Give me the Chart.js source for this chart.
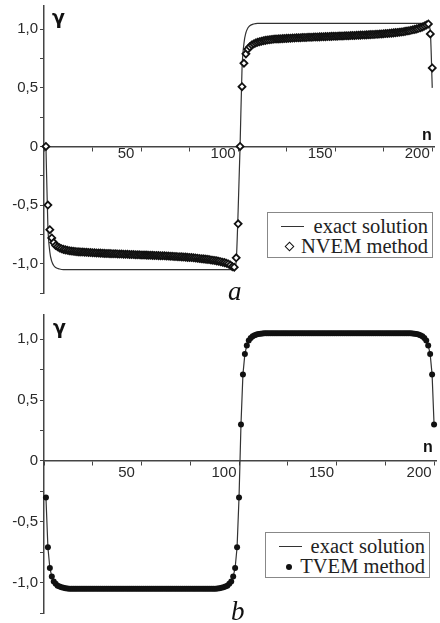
<!DOCTYPE html>
<html>
<head>
<meta charset="utf-8">
<script src="https://cdn.jsdelivr.net/npm/chart.js@4/dist/chart.umd.min.js"></script>
<style>
  body { margin: 0; background: #fff; }
  #wrap { position: relative; width: 440px; height: 623px; overflow: hidden; }
  canvas { position: absolute; left: 0; }
  .legend { position: absolute; border: 1px solid #888; background: #fff; box-sizing: border-box;
            font-family: "Liberation Serif", serif; font-size: 20.5px; color: #222; }
  .legend .txt { position: absolute; right: 4px; line-height: 20px; white-space: nowrap; }
  .legend .ln { position: absolute; width: 23px; height: 0; border-top: 1.5px solid #333; }
  .legend .dia { position: absolute; width: 5px; height: 5px; border: 1.5px solid #111; background: #fff; transform: rotate(45deg); }
  .legend .dot { position: absolute; width: 6px; height: 6px; border-radius: 50%; background: #111; }
</style>
</head>
<body>
<div id="wrap">
  <canvas id="chartA" width="440" height="310" style="top:0"></canvas>
  <canvas id="chartB" width="440" height="313" style="top:310px"></canvas>

  <div class="legend" style="left:267px; top:212px; width:166px; height:46px;">
    <div class="ln" style="left:13px; top:13px;"></div>
    <div class="txt" style="top:3px;">exact solution</div>
    <div class="dia" style="left:18px; top:30px;"></div>
    <div class="txt" style="top:23px;">NVEM method</div>
  </div>

  <div class="legend" style="left:265px; top:532px; width:165px; height:46px;">
    <div class="ln" style="left:13px; top:13px;"></div>
    <div class="txt" style="top:3px;">exact solution</div>
    <div class="dot" style="left:20px; top:31px;"></div>
    <div class="txt" style="top:23px;">TVEM method</div>
  </div>
</div>

<script>
// n = 1..200 (diamonds)
const nvem = [
  0, -0.50, -0.71, -0.78, -0.82, -0.845, -0.856, -0.865, -0.872, -0.878,
  -0.882, -0.886, -0.889, -0.892, -0.894, -0.896, -0.898, -0.899, -0.900, -0.901,
  -0.902, -0.903, -0.904, -0.905, -0.906, -0.907, -0.908, -0.909, -0.910, -0.911,
  -0.912, -0.913, -0.913, -0.914, -0.915, -0.916, -0.916, -0.917, -0.918, -0.918,
  -0.919, -0.920, -0.920, -0.921, -0.922, -0.922, -0.923, -0.924, -0.924, -0.925,
  -0.926, -0.926, -0.927, -0.928, -0.928, -0.929, -0.930, -0.930, -0.931, -0.932,
  -0.933, -0.933, -0.934, -0.935, -0.936, -0.937, -0.938, -0.939, -0.940, -0.941,
  -0.942, -0.943, -0.944, -0.946, -0.947, -0.948, -0.950, -0.951, -0.953, -0.955,
  -0.957, -0.959, -0.961, -0.963, -0.965, -0.968, -0.970, -0.973, -0.976, -0.979,
  -0.983, -0.987, -0.991, -0.996, -1.002, -1.012, -1.025, -1.030, -0.95, -0.66,
  0, 0.51, 0.71, 0.79, 0.83, 0.85, 0.865, 0.875, 0.883, 0.889,
  0.894, 0.898, 0.902, 0.905, 0.908, 0.910, 0.912, 0.914, 0.916, 0.917,
  0.918, 0.919, 0.920, 0.921, 0.922, 0.923, 0.924, 0.925, 0.926, 0.927,
  0.927, 0.928, 0.929, 0.930, 0.930, 0.931, 0.932, 0.932, 0.933, 0.934,
  0.934, 0.935, 0.936, 0.936, 0.937, 0.938, 0.938, 0.939, 0.940, 0.940,
  0.941, 0.942, 0.942, 0.943, 0.944, 0.944, 0.945, 0.946, 0.947, 0.947,
  0.948, 0.949, 0.950, 0.951, 0.951, 0.952, 0.953, 0.954, 0.955, 0.956,
  0.957, 0.958, 0.959, 0.960, 0.962, 0.963, 0.964, 0.966, 0.967, 0.969,
  0.971, 0.973, 0.975, 0.977, 0.979, 0.982, 0.985, 0.988, 0.991, 0.995,
  0.999, 1.003, 1.008, 1.014, 1.020, 1.028, 1.037, 1.045, 0.96, 0.67
];

// exact solution of panel a, sampled where the curve bends
const exactN = [1, 2, 3, 4, 5, 6, 8, 10, 20, 40, 60, 80, 95, 97, 98, 99, 100,
  101, 102, 103, 104, 105, 106, 108, 110, 120, 140, 160, 180, 195, 197, 198, 199, 200];
const exactA = [0, -0.68, -0.90, -0.98, -1.015, -1.032, -1.045, -1.05, -1.05, -1.05, -1.05, -1.05, -1.05, -1.048, -1.04, -0.98, -0.55,
  0, 0.66, 0.88, 0.97, 1.01, 1.03, 1.045, 1.05, 1.05, 1.05, 1.05, 1.05, 1.05, 1.048, 1.04, 0.98, 0.5];

// n = 1..200, panel b (filled dots, exact line runs through them)
const tvem = [
  -0.30, -0.71, -0.88, -0.95, -0.99, -1.01, -1.025, -1.033, -1.039, -1.043,
  -1.046, -1.048, -1.05, -1.05, -1.05, -1.05, -1.05, -1.05, -1.05, -1.05,
  -1.05, -1.05, -1.05, -1.05, -1.05, -1.05, -1.05, -1.05, -1.05, -1.05,
  -1.05, -1.05, -1.05, -1.05, -1.05, -1.05, -1.05, -1.05, -1.05, -1.05,
  -1.05, -1.05, -1.05, -1.05, -1.05, -1.05, -1.05, -1.05, -1.05, -1.05,
  -1.05, -1.05, -1.05, -1.05, -1.05, -1.05, -1.05, -1.05, -1.05, -1.05,
  -1.05, -1.05, -1.05, -1.05, -1.05, -1.05, -1.05, -1.05, -1.05, -1.05,
  -1.05, -1.05, -1.05, -1.05, -1.05, -1.05, -1.05, -1.05, -1.05, -1.05,
  -1.05, -1.05, -1.05, -1.05, -1.05, -1.05, -1.05, -1.05, -1.048, -1.046,
  -1.043, -1.039, -1.033, -1.025, -1.01, -0.99, -0.95, -0.88, -0.71, -0.30,
  0.30, 0.71, 0.88, 0.95, 0.99, 1.01, 1.025, 1.033, 1.039, 1.043,
  1.046, 1.048, 1.05, 1.05, 1.05, 1.05, 1.05, 1.05, 1.05, 1.05,
  1.05, 1.05, 1.05, 1.05, 1.05, 1.05, 1.05, 1.05, 1.05, 1.05,
  1.05, 1.05, 1.05, 1.05, 1.05, 1.05, 1.05, 1.05, 1.05, 1.05,
  1.05, 1.05, 1.05, 1.05, 1.05, 1.05, 1.05, 1.05, 1.05, 1.05,
  1.05, 1.05, 1.05, 1.05, 1.05, 1.05, 1.05, 1.05, 1.05, 1.05,
  1.05, 1.05, 1.05, 1.05, 1.05, 1.05, 1.05, 1.05, 1.05, 1.05,
  1.05, 1.05, 1.05, 1.05, 1.05, 1.05, 1.05, 1.05, 1.05, 1.05,
  1.05, 1.05, 1.05, 1.05, 1.05, 1.05, 1.05, 1.05, 1.048, 1.046,
  1.043, 1.039, 1.033, 1.025, 1.01, 0.99, 0.95, 0.88, 0.71, 0.30
];

const xTickStep = 25;
const yTickStep = 0.25;

const axisColor = '#444';
const tickFont = { family: '"Liberation Sans", Arial, sans-serif', size: 15 };

function yLabel(v) {
  if (Math.abs(v * 2 - Math.round(v * 2)) > 1e-6) return '';
  if (Math.abs(v) < 1e-9) return '0';
  return v.toFixed(1).replace('.', ',');
}

function xLabel(v) {
  return (v > 0 && v % 50 === 0) ? String(v) : '';
}

// draws the γ / n axis names and the panel letter
const panelText = {
  id: 'panelText',
  afterDraw(chart, args, o) {
    const ctx = chart.ctx;
    ctx.save();
    ctx.fillStyle = '#111';
    ctx.textBaseline = 'alphabetic';
    ctx.font = 'bold 19px "DejaVu Sans", sans-serif';
    ctx.fillText('γ', o.gx, o.gy);
    ctx.font = 'bold 16px "Liberation Sans", sans-serif';
    ctx.fillText('n', o.nx, o.ny);
    ctx.font = 'italic 27px "Liberation Serif", serif';
    ctx.fillText(o.tag, o.tx, o.ty);
    ctx.restore();
  }
};

function scales(xPad) {
  return {
    x: {
      type: 'linear',
      position: { y: 0 },
      min: 0,
      max: 201,
      afterBuildTicks: s => { s.ticks = s.ticks.filter(t => t.value % xTickStep === 0); },
      afterFit: s => { s.paddingLeft = 0; s.paddingRight = 0; },
      ticks: { stepSize: xTickStep, includeBounds: false, autoSkip: false, maxRotation: 0, labelOffset: -15,
               padding: xPad, color: '#2a2a2a', font: tickFont, callback: xLabel },
      grid: { drawOnChartArea: false, tickLength: 4, color: axisColor },
      border: { display: true, color: axisColor, width: 1.5 }
    },
    y: {
      type: 'linear',
      position: 'left',
      min: -1.25,
      max: 1.2,
      afterBuildTicks: s => { s.ticks = s.ticks.filter(t => Math.abs(t.value * 4 - Math.round(t.value * 4)) < 1e-6); },
      afterFit: s => { s.width = 44; s.paddingTop = 0; s.paddingBottom = 0; },
      ticks: { stepSize: yTickStep, includeBounds: false, autoSkip: false, padding: 2, color: '#2a2a2a', font: tickFont, callback: yLabel },
      grid: { drawOnChartArea: false, tickLength: 4, color: axisColor },
      border: { display: true, color: axisColor, width: 1.5 }
    }
  };
}

const nvemPts = nvem.map((v, i) => ({ x: i + 1, y: v }));
const exactPts = exactN.map((n, i) => ({ x: n, y: exactA[i] }));
const tvemPts = tvem.map((v, i) => ({ x: i + 1, y: v }));

new Chart(document.getElementById('chartA'), {
  type: 'scatter',
  data: {
    datasets: [{
      label: 'NVEM method',
      data: nvemPts,
      showLine: false,
      pointStyle: 'rectRot',
      pointRadius: 3.5,
      pointBorderWidth: 1.8,
      pointBackgroundColor: '#fff',
      pointBorderColor: '#111',
      clip: false
    }, {
      label: 'exact solution',
      data: exactPts,
      showLine: true,
      borderColor: '#333',
      borderWidth: 1.2,
      pointRadius: 0,
      cubicInterpolationMode: 'monotone',
      clip: false
    }]
  },
  options: {
    responsive: false,
    animation: false,
    devicePixelRatio: 1,
    layout: { padding: { left: 0, top: 5, right: 1, bottom: 17 } },
    scales: scales(-6),
    plugins: {
      legend: { display: false },
      tooltip: { enabled: false },
      panelText: { gx: 52, gy: 24, nx: 422, ny: 140, tag: 'a', tx: 228, ty: 300 }
    }
  },
  plugins: [panelText]
});

new Chart(document.getElementById('chartB'), {
  type: 'scatter',
  data: {
    datasets: [{
      label: 'TVEM method',
      data: tvemPts,
      showLine: false,
      pointStyle: 'circle',
      pointRadius: 3,
      pointBorderWidth: 0,
      pointBackgroundColor: '#111',
      clip: false
    }, {
      label: 'exact solution',
      data: tvemPts,
      showLine: true,
      borderColor: '#333',
      borderWidth: 1.2,
      pointRadius: 0,
      clip: false
    }]
  },
  options: {
    responsive: false,
    animation: false,
    devicePixelRatio: 1,
    layout: { padding: { left: 0, top: 5, right: 1, bottom: 10 } },
    scales: scales(-1),
    plugins: {
      legend: { display: false },
      tooltip: { enabled: false },
      panelText: { gx: 53, gy: 24, nx: 423, ny: 142, tag: 'b', tx: 231, ty: 310 }
    }
  },
  plugins: [panelText]
});
</script>
</body>
</html>
